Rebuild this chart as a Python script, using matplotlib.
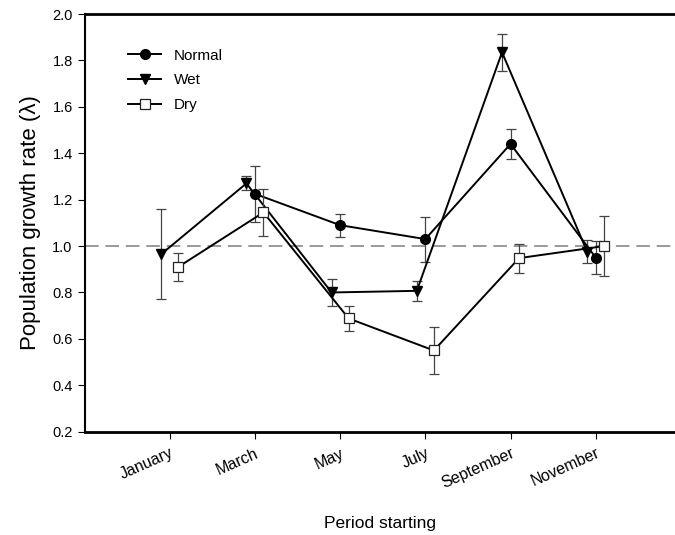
import matplotlib
matplotlib.use("Agg")
import matplotlib.pyplot as plt
from matplotlib.lines import Line2D
import numpy as np

plt.rcParams['font.family'] = ['Liberation Sans', 'DejaVu Sans']

months = ["January", "March", "May", "July", "September", "November"]
x = np.arange(1, 7)

# growth rate (lambda) and error per period; Normal has no January value
normal = [np.nan, 1.225, 1.09, 1.03, 1.44, 0.95]
normal_err = [np.nan, 0.12, 0.05, 0.097, 0.065, 0.07]
wet = [0.965, 1.27, 0.80, 0.807, 1.835, 0.975]
wet_err = [0.195, 0.03, 0.058, 0.042, 0.08, 0.05]
dry = [0.91, 1.145, 0.688, 0.55, 0.948, 1.0]
dry_err = [0.06, 0.1, 0.055, 0.1, 0.062, 0.13]

fig = plt.figure(figsize=(6.75, 5.35), dpi=100)
ax = fig.add_axes([0.1252, 0.1931, 0.8748, 0.7807])

ax.axhline(1.0, color="#999999", lw=1.4, ls=(0, (7, 3.5)), zorder=1)

err_kw = dict(ecolor="#444444", elinewidth=0.9, capsize=3.5, capthick=0.9)
ax.errorbar(x - 0.1, wet, yerr=wet_err, color="black", lw=1.4, marker="v",
            ms=7, mfc="black", mec="black", zorder=3, **err_kw)
ax.errorbar(x, normal, yerr=normal_err, color="black", lw=1.4, marker="o",
            ms=7, mfc="black", mec="black", zorder=3, **err_kw)
ax.errorbar(x + 0.1, dry, yerr=dry_err, color="black", lw=1.4, marker="s",
            ms=7, mfc="white", mec="#222222", mew=0.9, zorder=4, **err_kw)

ax.set_xlim(0, 6.93)
ax.set_ylim(0.2, 2.0)
ax.set_yticks(np.arange(0.2, 2.01, 0.2))
ax.set_yticklabels([f"{v:.1f}" for v in np.arange(0.2, 2.01, 0.2)])
ax.set_xticks(x)
ax.set_xticklabels(months, rotation=24, ha="right", rotation_mode="anchor")

ax.spines["right"].set_visible(False)
ax.spines["top"].set_linewidth(2)
ax.spines["bottom"].set_linewidth(2)
ax.spines["left"].set_linewidth(1.5)
ax.tick_params(axis="both", direction="out", length=5, width=0.8, labelsize=10.5)
ax.tick_params(axis="x", pad=5, labelsize=11.5)

ax.set_ylabel("Population growth rate (λ)", fontsize=16, labelpad=8)
ax.set_xlabel("Period starting", fontsize=12.5, labelpad=18)

handles = [
    Line2D([], [], color="black", lw=1.4, marker="o", ms=7, mfc="black"),
    Line2D([], [], color="black", lw=1.4, marker="v", ms=7, mfc="black"),
    Line2D([], [], color="black", lw=1.4, marker="s", ms=7, mfc="white", mec="#222222", mew=0.9),
]
ax.legend(handles, ["Normal", "Wet", "Dry"],
          loc="upper left", bbox_to_anchor=(0.05, 0.95), frameon=False,
          fontsize=11, handlelength=2.2, labelspacing=0.7)

fig.savefig("out.png", dpi=100)
